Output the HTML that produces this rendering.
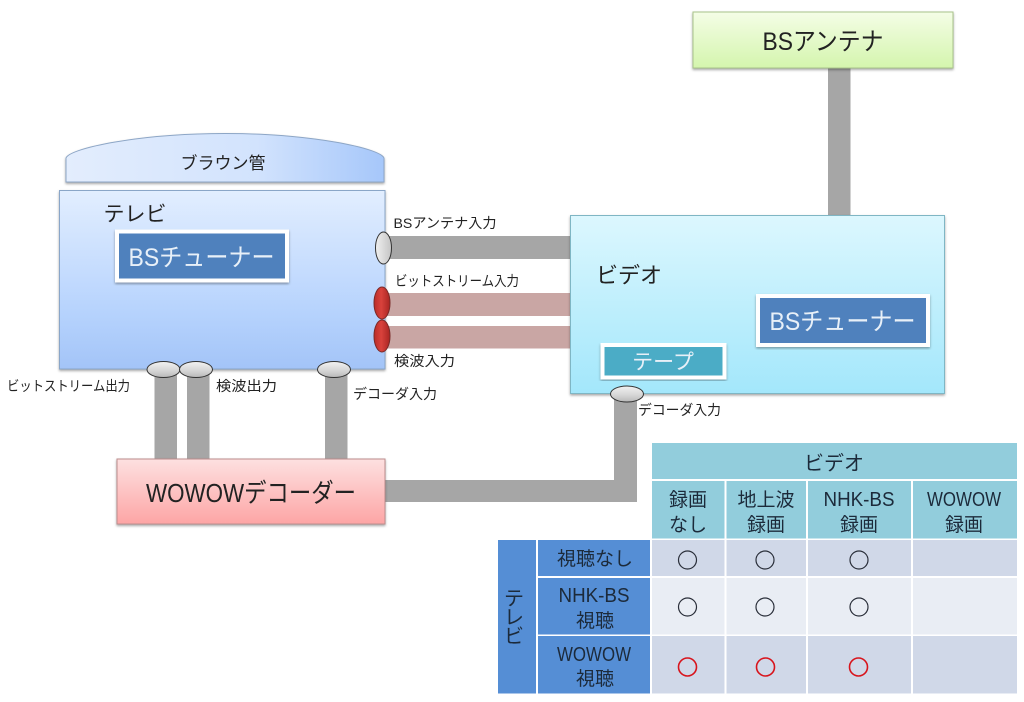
<!DOCTYPE html>
<html lang="ja"><head><meta charset="utf-8"><style>
html,body{margin:0;padding:0;background:#fff}
svg{display:block}
text{font-family:"Liberation Sans","Noto Sans CJK JP",sans-serif;fill:#222;text-anchor:middle}
.s{font-size:14px;text-anchor:start}
.t{font-size:19px;fill:#1c2a3a}
.l{font-size:20px;fill:#1c2a3a}
.w{fill:#e8f0f8}
</style></head><body>
<svg width="1024" height="702" viewBox="0 0 1024 702" xmlns="http://www.w3.org/2000/svg">
<defs>
<linearGradient id="tv" x1="0" y1="0" x2="0" y2="1"><stop offset="0" stop-color="#e2eeff"/><stop offset=".7" stop-color="#b5d2fd"/><stop offset="1" stop-color="#a3c4f7"/></linearGradient>
<linearGradient id="br" x1="0" y1="0" x2="1" y2="0"><stop offset="0" stop-color="#e3edfd"/><stop offset=".6" stop-color="#d2e3fd"/><stop offset="1" stop-color="#a6c7fa"/></linearGradient>
<linearGradient id="vd" x1="0" y1="0" x2="0" y2="1"><stop offset="0" stop-color="#dcf7fe"/><stop offset="1" stop-color="#a3e7fb"/></linearGradient>
<linearGradient id="gr" x1="0" y1="0" x2="0" y2="1"><stop offset="0" stop-color="#f4fde6"/><stop offset="1" stop-color="#d4f5ad"/></linearGradient>
<linearGradient id="pk" x1="0" y1="0" x2="0" y2="1"><stop offset="0" stop-color="#fde0e0"/><stop offset="1" stop-color="#fda5a5"/></linearGradient>
<linearGradient id="gy" x1="0" y1="0" x2="0" y2="1"><stop offset="0" stop-color="#f2f2f2"/><stop offset=".6" stop-color="#d4d4d4"/><stop offset="1" stop-color="#b8b8b8"/></linearGradient>
<linearGradient id="gh" x1="0" y1="0" x2="1" y2="0"><stop offset="0" stop-color="#f0f0f0"/><stop offset="1" stop-color="#c4c4c4"/></linearGradient>
<linearGradient id="rd" x1="0" y1="0" x2="1" y2="0"><stop offset="0" stop-color="#b92c28"/><stop offset=".45" stop-color="#d9423c"/><stop offset="1" stop-color="#a82522"/></linearGradient>
<filter id="sh" x="-5%" y="-5%" width="110%" height="115%"><feDropShadow dx="0" dy="1.5" stdDeviation="1.2" flood-color="#000" flood-opacity=".35"/></filter>
</defs>

<!-- connectors -->
<rect x="828" y="66" width="22.500" height="150" fill="#a6a6a6"/>
<rect x="385" y="236" width="186" height="23" fill="#a6a6a6"/>
<rect x="385" y="293" width="186" height="23" fill="#c9a6a4"/>
<rect x="385" y="326" width="186" height="22.500" fill="#c9a6a4"/>
<rect x="154.500" y="369" width="22.500" height="91" fill="#a6a6a6"/>
<rect x="187" y="369" width="22.500" height="91" fill="#a6a6a6"/>
<rect x="325" y="369" width="22.500" height="91" fill="#a6a6a6"/>
<path d="M385 480H614V394H637V502H385Z" fill="#a6a6a6"/>

<!-- Brown tube -->
<path d="M66 182V158C70 148 140 133.500 225 133.500S380 148 384 158V182Z" fill="url(#br)" stroke="#8da6c6" stroke-width="1" filter="url(#sh)"/>
<text x="223" y="169" style="font-size:17px">ブラウン管</text>

<!-- TV -->
<rect x="59.500" y="190.500" width="325.500" height="178.500" fill="url(#tv)" stroke="#8aa6c8" stroke-width="1" filter="url(#sh)"/>
<text x="135" y="221" style="font-size:21px">テレビ</text>
<rect x="117" y="231.500" width="170" height="49" fill="#4f81bd" stroke="#fff" stroke-width="4" filter="url(#sh)"/>
<text x="201.500" y="266" class="w" style="font-size:25px" textLength="146" lengthAdjust="spacingAndGlyphs">BSチューナー</text>

<!-- Antenna -->
<rect x="693" y="12" width="260" height="56" fill="url(#gr)" stroke="#a9c48a" stroke-width="1" filter="url(#sh)"/>
<text x="823" y="50" style="font-size:25px" textLength="121" lengthAdjust="spacingAndGlyphs">BSアンテナ</text>

<!-- Video -->
<rect x="570.500" y="215.500" width="374" height="178" fill="url(#vd)" stroke="#7fb6c4" stroke-width="1" filter="url(#sh)"/>
<text x="629" y="283" style="font-size:22px">ビデオ</text>
<rect x="758" y="296" width="170" height="49" fill="#4f81bd" stroke="#fff" stroke-width="4" filter="url(#sh)"/>
<text x="842.500" y="330" class="w" style="font-size:25px" textLength="146" lengthAdjust="spacingAndGlyphs">BSチューナー</text>
<rect x="602.500" y="345" width="122" height="32.500" fill="#4bacc6" stroke="#fff" stroke-width="4" filter="url(#sh)"/>
<text x="663" y="369" class="w" style="font-size:21px">テープ</text>

<!-- Decoder -->
<rect x="117" y="459" width="268" height="65" fill="url(#pk)" stroke="#bd8d8d" stroke-width="1" filter="url(#sh)"/>
<text x="251" y="502" style="font-size:26px" textLength="210" lengthAdjust="spacingAndGlyphs">WOWOWデコーダー</text>

<!-- Ellipses -->
<ellipse cx="383.500" cy="248" rx="8" ry="16" fill="url(#gh)" stroke="#333" stroke-width="1"/>
<ellipse cx="382" cy="303" rx="8" ry="16" fill="url(#rd)" stroke="#7a2a28" stroke-width="1"/>
<ellipse cx="382" cy="336" rx="8" ry="16" fill="url(#rd)" stroke="#7a2a28" stroke-width="1"/>
<ellipse cx="163.500" cy="369.500" rx="16.500" ry="8" fill="url(#gy)" stroke="#333" stroke-width="1"/>
<ellipse cx="196" cy="369.500" rx="16.500" ry="8" fill="url(#gy)" stroke="#333" stroke-width="1"/>
<ellipse cx="334" cy="369.500" rx="16.500" ry="8" fill="url(#gy)" stroke="#333" stroke-width="1"/>
<ellipse cx="627" cy="394" rx="16.500" ry="8" fill="url(#gy)" stroke="#333" stroke-width="1"/>

<!-- Small labels -->
<text class="s" x="393.500" y="228" textLength="103" lengthAdjust="spacingAndGlyphs">BSアンテナ入力</text>
<text class="s" x="395" y="286" textLength="124" lengthAdjust="spacingAndGlyphs">ビットストリーム入力</text>
<text class="s" x="394" y="366" textLength="61" lengthAdjust="spacingAndGlyphs">検波入力</text>
<text class="s" x="353" y="399" textLength="84" lengthAdjust="spacingAndGlyphs">デコーダ入力</text>
<text class="s" x="638" y="415" textLength="83" lengthAdjust="spacingAndGlyphs">デコーダ入力</text>
<text class="s" x="7" y="391" textLength="123" lengthAdjust="spacingAndGlyphs">ビットストリーム出力</text>
<text class="s" x="216" y="391" textLength="61" lengthAdjust="spacingAndGlyphs">検波出力</text>

<!-- Table -->
<g fill="#92cddc">
<rect x="652" y="443" width="365" height="36"/>
<rect x="652" y="481" width="72.500" height="57.500"/>
<rect x="726.500" y="481" width="79.500" height="57.500"/>
<rect x="808" y="481" width="103" height="57.500"/>
<rect x="913" y="481" width="104" height="57.500"/>
</g>
<g fill="#d0d8e8">
<rect x="652" y="540" width="72.500" height="36"/><rect x="726.500" y="540" width="79.500" height="36"/><rect x="808" y="540" width="103" height="36"/><rect x="913" y="540" width="104" height="36"/>
<rect x="652" y="636" width="72.500" height="57.500"/><rect x="726.500" y="636" width="79.500" height="57.500"/><rect x="808" y="636" width="103" height="57.500"/><rect x="913" y="636" width="104" height="57.500"/>
</g>
<g fill="#e9edf4">
<rect x="652" y="578" width="72.500" height="56.500"/><rect x="726.500" y="578" width="79.500" height="56.500"/><rect x="808" y="578" width="103" height="56.500"/><rect x="913" y="578" width="104" height="56.500"/>
</g>
<g fill="#558ed5">
<rect x="498" y="540" width="38" height="153.500"/>
<rect x="538" y="540" width="112" height="36"/>
<rect x="538" y="578" width="112" height="56.500"/>
<rect x="538" y="636" width="112" height="57.500"/>
</g>

<text x="834" y="470" class="t" style="font-size:20px">ビデオ</text>
<text x="688" y="506" class="t">録画</text><text x="688" y="531" class="t">なし</text>
<text x="766" y="506" class="t">地上波</text><text x="766" y="531" class="t">録画</text>
<text x="859" y="506" class="l" textLength="71" lengthAdjust="spacingAndGlyphs">NHK-BS</text><text x="859" y="531" class="t">録画</text>
<text x="964" y="506" class="l" textLength="74" lengthAdjust="spacingAndGlyphs">WOWOW</text><text x="964" y="531" class="t">録画</text>

<text x="595" y="565" class="t">視聴なし</text>
<text x="594" y="602" class="l" textLength="71" lengthAdjust="spacingAndGlyphs">NHK-BS</text><text x="595" y="627" class="t">視聴</text>
<text x="594" y="661" class="l" textLength="74" lengthAdjust="spacingAndGlyphs">WOWOW</text><text x="595" y="685" class="t">視聴</text>
<text x="514" y="605" class="t" style="font-size:20px">テ</text>
<text x="514" y="624" class="t" style="font-size:20px">レ</text>
<text x="514" y="643" class="t" style="font-size:20px">ビ</text>

<g fill="none" stroke="#2a2f3a" stroke-width="1.200">
<circle cx="687.500" cy="560" r="9"/><circle cx="765" cy="560" r="9"/><circle cx="859" cy="560" r="9"/>
<circle cx="687.500" cy="607" r="9"/><circle cx="765" cy="607" r="9"/><circle cx="859" cy="607" r="9"/>
</g>
<g fill="none" stroke="#d8141c" stroke-width="1.600">
<circle cx="687.500" cy="667" r="9"/><circle cx="765.500" cy="667" r="9"/><circle cx="858.500" cy="667" r="9"/>
</g>
</svg>
</body></html>
